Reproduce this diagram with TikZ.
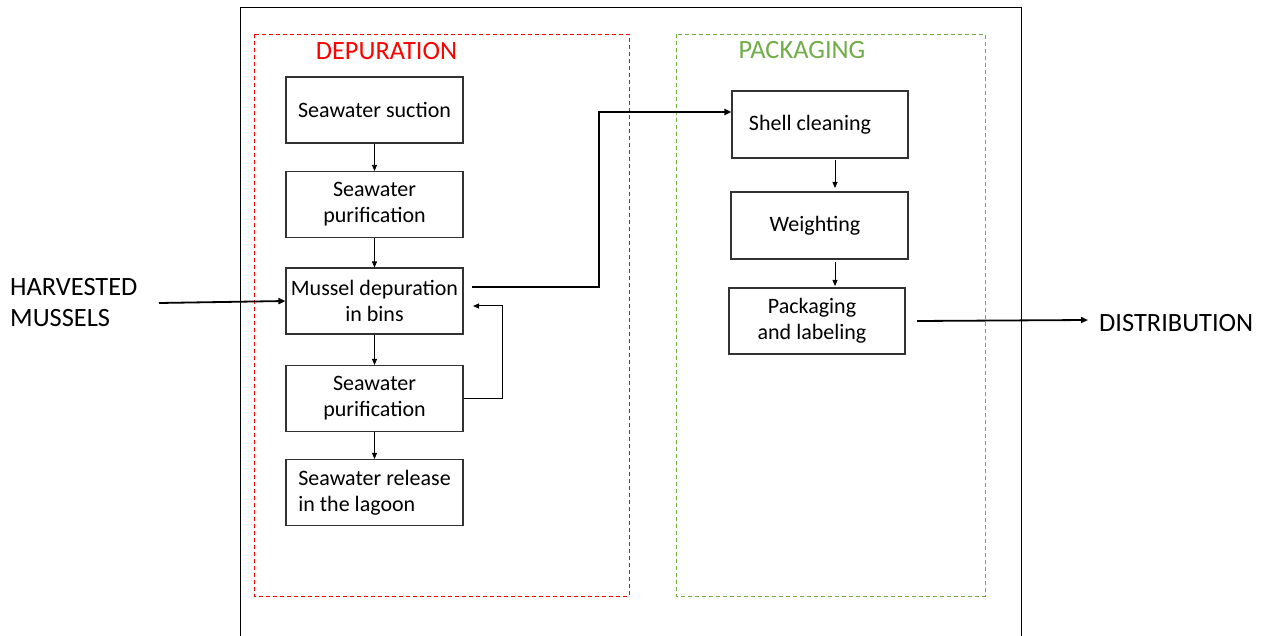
\documentclass[tikz,border=0pt]{standalone}
\usepackage{fontspec}
\setmainfont{Carlito}
\usetikzlibrary{arrows.meta}
\definecolor{depred}{RGB}{255,0,0}
\definecolor{packgreen}{RGB}{112,173,71}
\definecolor{boxline}{RGB}{50,50,50}
\newcommand\textnudge[1]{\hspace*{-#1}}
\begin{document}
\begin{tikzpicture}[x=1pt,y=-1pt,
  stepbox/.style={draw=boxline,line width=1.1pt,minimum width=177pt,minimum height=66pt,
    align=center,font=\fontsize{22}{26}\selectfont,inner sep=0pt},
  thin arrow/.style={line width=0.8pt,-{Triangle[length=6pt,width=5pt]}},
  thick arrow/.style={line width=1.8pt,-{Triangle[length=7pt,width=6pt]}},
  group/.style={dashed,line width=0.9pt,dash pattern=on 4pt off 3pt},
  label/.style={font=\fontsize{26.4}{31}\selectfont,inner sep=0pt}]
\useasboundingbox (0,0) rectangle (1261,636);
% outer frame
\draw[line width=0.9pt] (240,645) -- (240,7) -- (1021,7) -- (1021,645);
% stage groups
\draw[group,depred] (254,34) rectangle (629,596);
\draw[group,packgreen] (676,34) rectangle (985,596);
\node[label,text=depred] (deptitle) at (386.5,51) {DEPURATION};
\node[label,text=packgreen] (packtitle) at (802,50) {PACKAGING};
% depuration steps
\node[stepbox] (suction) at (374.5,110) {Seawater suction};
\node[stepbox] (purif1) at (374.5,204.5) {Seawater\\purification};
\node[stepbox] (bins) at (374.5,301) {Mussel depuration\\in bins};
\node[stepbox] (purif2) at (374.5,398.5) {Seawater\\purification};
\node[stepbox,align=left] (release) at (374.5,492.5) {Seawater release\\in the lagoon};
% packaging steps
\node[stepbox,minimum width=176pt,minimum height=67pt] (shell) at (820,124.5) {\textnudge{20pt}Shell cleaning};
\node[stepbox,minimum width=177pt,minimum height=67pt] (weigh) at (819.5,225.5) {\textnudge{9pt}Weighting};
\node[stepbox,minimum width=176pt,minimum height=66pt] (pack) at (817,321) {\textnudge{10pt}Packaging\\\textnudge{10pt}and labeling};
% inputs and outputs
\node[label,align=left,anchor=west] (harvest) at (10,302.5) {HARVESTED\\MUSSELS};
\node[label,anchor=west] (distrib) at (1099,323) {DISTRIBUTION};
\coordinate (distin) at (1088,320);
% flow within depuration
\draw[thin arrow] (suction.south) -- (purif1.north);
\draw[thin arrow] (purif1.south) -- (bins.north);
\draw[thin arrow] (bins.south) -- (purif2.north);
\draw[thin arrow] (purif2.south) -- (release.north);
% recirculation back to the bins
\coordinate (recirc) at (473,306);
\draw[thin arrow,line width=1pt] (purif2.east) -- (502,398.5) -- (502,306) -- (recirc);
% flow within packaging
\draw[thin arrow] (835,160) -- (835,188);
\draw[thin arrow] (835,262) -- (835,286);
% main transfers
\draw[thick arrow] (159,303) -- (bins.west);
\draw[thick arrow] (472,287) -- (599,287) -- (599,112) -- (shell.west |- 0,112);
\draw[thick arrow] (917,321) -- (distin);
\end{tikzpicture}
\end{document}
